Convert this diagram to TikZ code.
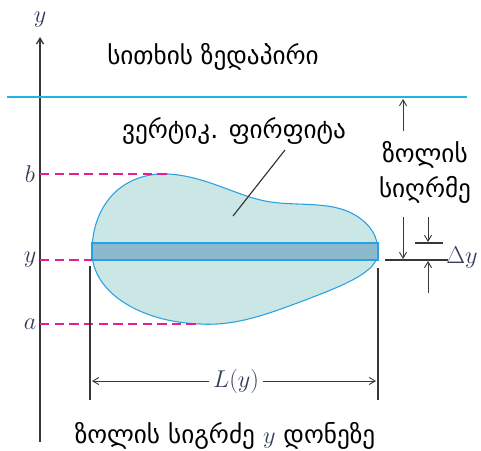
\documentclass[tikz,border=0pt]{standalone}
\usepackage{fontspec}
\newfontfamily\geo{DejaVu Sans}
\usetikzlibrary{arrows.meta,positioning}
\definecolor{srf}{RGB}{30,180,230}
\definecolor{plt}{RGB}{202,231,230}
\definecolor{edg}{RGB}{40,160,225}
\definecolor{stp}{RGB}{140,185,205}
\definecolor{mag}{RGB}{232,30,140}
\definecolor{ink}{RGB}{55,55,55}
\definecolor{lbl}{RGB}{50,60,90}
\tikzset{t/.style={font=\geo\fontsize{21.5}{30}\selectfont,text=black,inner sep=1pt,align=center},
 m/.style={font=\fontsize{20}{24}\selectfont,text=lbl,inner sep=1pt},
 ar/.style={-{Straight Barb[length=5pt,width=6pt]},ink,line width=0.8pt},
 dsh/.style={mag,dash pattern=on 8pt off 4.5pt,line width=1pt},
 ln/.style={ink,line width=1pt}}
\begin{document}
\begin{tikzpicture}[x=0.03cm,y=-0.03cm]
\useasboundingbox (0,0) rectangle (481,450);
% axis and surface
\coordinate(o)at(40,442);\coordinate(top)at(40,37);\draw[ar,line width=1.1pt](o)--(top);
\node[m](yy)at(40,20){$y$};
\coordinate(s1)at(7,97);\coordinate(s2)at(467,97);\draw[srf,line width=1.2pt](s1)--(s2);
\node[t](sf)at(213,57){სითხის ზედაპირი};
% plate
\draw[edg,fill=plt,line width=0.9pt](92,252)..controls(92,205)and(122,172)..(168,174)
 ..controls(205,176)and(235,195)..(265,201)..controls(295,207)and(330,200)..(355,215)
 ..controls(372,225)and(378,238)..(378,252)..controls(378,272)and(345,285)..(300,302)
 ..controls(265,315)and(235,326)..(200,324)..controls(140,322)and(92,292)..(92,252);
\draw[edg,fill=stp,line width=0.9pt](92,243)rectangle(378,260);
\node[t](pl)at(234,131){ვერტიკ. ფირფიტა};
\coordinate(p)at(233,216);\draw[ln](285,150)--(p);
% levels
\node[m](b)at(30,174){$b$};\node[m](y)at(30,260){$y$};\node[m](a)at(30,324){$a$};
\draw[dsh](40,174)--(168,174);\draw[dsh](40,260)--(92,260);\draw[dsh](40,324)--(200,324);
% length
\coordinate(l1)at(90,266);\coordinate(l2)at(90,400);\draw[ln](l1)--(l2);
\coordinate(r1)at(378,268);\coordinate(r2)at(378,400);\draw[ln](r1)--(r2);
\node[m,fill=white,inner sep=3pt](L)at(236,381){$L(y)$};
\draw[ar](L)--(92,381);\draw[ar](L)--(376,381);
\node[t](bl)at(225,436){ზოლის სიგრძე {\color{lbl}$y$} დონეზე};
% depth
\node[t](d)at(425,172){ზოლის\\სიღრმე};
\draw[ar](403,131)--(403,99);\draw[ar](403,217)--(403,259);
\draw[ln](385,260)--(448,260);\draw[ln](415,243)--(443,243);
\draw[ar](428,217)--(428,242);\draw[ar](428,293)--(428,261);
\node[m](dy)at(462,258){$\Delta y$};
\end{tikzpicture}
\end{document}
